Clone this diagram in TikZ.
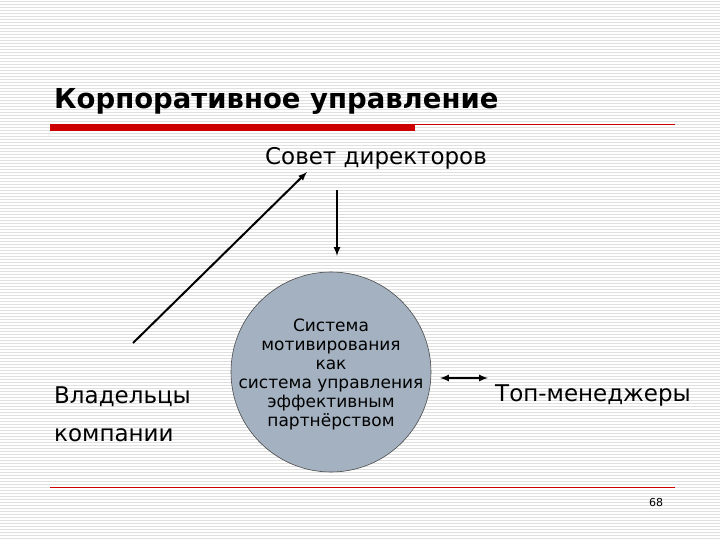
\documentclass[tikz,border=0pt]{standalone}
\usepackage{fontspec}
\setmainfont{DejaVu Sans}
\begin{document}
\begin{tikzpicture}[x=1pt,y=-1pt,
  lbl/.style={inner sep=0pt,font=\fontsize{23}{26}\selectfont},
  arr/.style={line width=2pt,-{latex[scale=0.9]}}]
\useasboundingbox (0,0) rectangle (720,540);
\fill[white] (0,0) rectangle (720,540);
\foreach \y in {1,4,...,540} \draw[black!12,line width=0.8pt] (0,\y) -- (720,\y);
\node[anchor=base west,inner sep=0pt,font=\bfseries\fontsize{27.5}{30}\selectfont] (title) at (54,109) {Корпоративное управление};
\fill[red!80!black] (50,124) rectangle (415,131);
\draw[red!80!black,line width=0.7pt] (415,124.5) -- (675,124.5);
\draw[red!80!black,line width=0.7pt] (50,487) -- (675,487);
\node[anchor=base,inner sep=0pt,font=\fontsize{11}{12}\selectfont] (pg) at (656,506) {68};
\node[lbl,anchor=base] (sovet) at (376,165) {Совет директоров};
\node[circle,draw=black!70,line width=0.6pt,fill={rgb,255:red,163;green,177;blue,192},minimum size=200pt,inner sep=0pt] (c) at (331,372) {};
\node[align=center,font=\fontsize{17}{19}\selectfont,inner sep=0pt] (ct) at (331,374) {Система\\мотивирования\\как\\система управления\\эффективным\\партнёрством};
\node[lbl,anchor=base west] (vl) at (54,403) {Владельцы};
\node[lbl,anchor=base west] (km) at (54,441) {компании};
\node[lbl,anchor=base west] (top) at (495,401) {Топ-менеджеры};
\coordinate (a1) at (133,343);
\coordinate (a2) at (307,172);
\draw[arr] (a1) -- (a2);
\coordinate (b1) at (337,190);
\coordinate (b2) at (337,256);
\draw[arr] (b1) -- (b2);
\coordinate (d1) at (440,378);
\coordinate (d2) at (488,378);
\draw[line width=2pt,{latex[scale=0.9]}-{latex[scale=0.9]}] (d1) -- (d2);
\end{tikzpicture}
\end{document}
